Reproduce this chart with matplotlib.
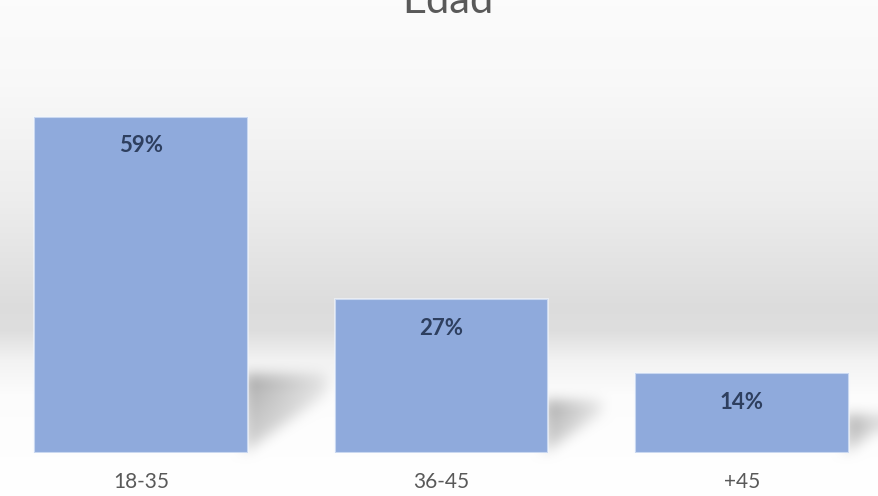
import numpy as np
import matplotlib
matplotlib.use("Agg")
import matplotlib.pyplot as plt
from matplotlib.path import Path

categories = ["18-35", "36-45", "+45"]
values = [59, 27, 14]
labels = ["59%", "27%", "14%"]
title = "Edad"

W, H, DPI = 879, 496, 100
BAR_COLOR = "#8FAADC"
LABEL_COLOR = "#2E3F5F"
TEXT_COLOR = "#595959"
FONT = ["Lato", "DejaVu Sans"]

fig = plt.figure(figsize=(W / DPI, H / DPI), dpi=DPI)

# background axes (gradient + shadows)
ax_bg = fig.add_axes([0, 0, 1, 1], zorder=0)
ax_bg.set_axis_off()

ax = fig.add_axes([0, 43 / H, 1, 453 / H], zorder=1)
ax.patch.set_alpha(0)
x = np.arange(len(categories))
bars = ax.bar(x, values, width=0.712, color=BAR_COLOR, edgecolor=(0.95, 0.97, 1.0, 0.6),
              linewidth=1.5, zorder=3)
ax.set_xlim(-141 / 300.5, (W - 141) / 300.5)
ax.set_ylim(0, 453 / 5.70)
for s in ax.spines.values():
    s.set_visible(False)
ax.set_yticks([])
ax.set_xticks(x)
ax.set_xticklabels(categories, fontsize=15, color=TEXT_COLOR, family=FONT)
ax.tick_params(axis="x", length=0, pad=14)

for xi, v, lab in zip(x, values, labels):
    ax.annotate(lab, (xi, v), xytext=(0, -21), textcoords="offset points",
                ha="center", va="center", fontsize=16, fontweight="bold",
                color=LABEL_COLOR, family=FONT, zorder=4)

fig.text(0.51, 1 - 13 / H, title, ha="center", va="baseline", fontsize=30,
         color=TEXT_COLOR, family=FONT)

# ---- background gradient image ----
rows = np.arange(H)
stops_y = [0, 80, 200, 305, 330, 360, 395, 496]
stops_v = [0.985, 0.975, 0.93, 0.865, 0.87, 0.95, 0.99, 1.0]
col = np.interp(rows, stops_y, stops_v)
img = np.repeat(col[:, None], W, axis=1)

# ---- shadows derived from the bars ----
yy, xx = np.mgrid[0:H, 0:W]
pts = np.column_stack([xx.ravel() + 0.5, yy.ravel() + 0.5])
mask = np.zeros((H, W))
for b in bars:
    (x0, y0) = ax.transData.transform((b.get_x(), 0))
    (x1, y1) = ax.transData.transform((b.get_x() + b.get_width(), b.get_height()))
    xr = x1
    yb = H - y0
    hpx = y1 - y0
    s = 4.3 * np.sqrt(hpx)
    poly = Path([(xr - 4, yb - s), (xr + s, yb - s), (xr + s, yb - 0.75 * s), (xr - 4, yb)])
    inside = poly.contains_points(pts).reshape(H, W).astype(float)
    fade = np.clip(1 - 0.75 * (xx - xr) / s, 0, 1)
    vfade = np.clip(1 - 0.5 * (yy - (yb - s)) / s, 0.3, 1)
    mask = np.maximum(mask, inside * fade * vfade)


def box_blur(a, k):
    out = a.copy()
    for axis in (0, 1):
        pad = [(0, 0), (0, 0)]
        pad[axis] = (k, k)
        p = np.pad(out, pad, mode="edge")
        c = np.cumsum(p, axis=axis)
        c = np.insert(c, 0, 0, axis=axis)
        n = out.shape[axis]
        if axis == 0:
            out = (c[2 * k + 1:2 * k + 1 + n, :] - c[0:n, :]) / (2 * k + 1)
        else:
            out = (c[:, 2 * k + 1:2 * k + 1 + n] - c[:, 0:n]) / (2 * k + 1)
    return out


mask = box_blur(box_blur(mask, 7), 7)
img = img * (1 - 0.32 * mask)
rgb = np.dstack([img, img, img])
ax_bg.imshow(rgb, extent=(0, 1, 0, 1), aspect="auto", interpolation="bilinear")
ax_bg.set_xlim(0, 1)
ax_bg.set_ylim(0, 1)

fig.savefig("out.png", dpi=DPI)
